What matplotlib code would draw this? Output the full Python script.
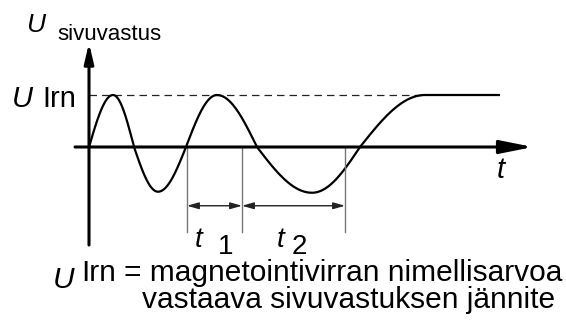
import numpy as np
import matplotlib.pyplot as plt

plt.rcParams['font.family'] = ['Liberation Sans', 'DejaVu Sans']

# aaltomuodon tukipisteet: aika ja jännite suhteessa U_lrn:ään
t_avain = [0, 24, 45, 69, 97, 128, 168, 223, 271, 336, 411]
u_avain = [0, 1, 0, -0.86, 0, 1, 0, -0.88, 0, 1, 1]

# mittaviivojen t1 ja t2 kohdat
t_mitat = [98, 153, 256]
u_taso = 1.0


def aalto(t_k, u_k, n=60):
    # neljännesjaksot tukipisteiden välille
    tt, uu = [], []
    for i in range(len(t_k) - 1):
        s = np.linspace(0, 1, n)
        t0, t1 = t_k[i], t_k[i + 1]
        v0, v1 = u_k[i], u_k[i + 1]
        if abs(v0) < abs(v1):
            u = v0 + (v1 - v0) * np.sin(np.pi / 2 * s)
        else:
            u = v1 + (v0 - v1) * np.cos(np.pi / 2 * s)
        tt.append(t0 + (t1 - t0) * s)
        uu.append(u)
    return np.concatenate(tt), np.concatenate(uu)


fig = plt.figure(figsize=(5.66, 3.24), dpi=100)
ax = fig.add_axes([0, 0, 1, 1])
ax.set_xlim(-89, 477)
ax.set_ylim(-3.404, 2.827)
ax.axis('off')

# akselit nuolineen
ax.annotate('', xy=(444, 0), xytext=(-14, 0),
            arrowprops=dict(arrowstyle='-|>,head_length=1.0,head_width=0.2',
                            mutation_scale=20, lw=2.2, color='k',
                            shrinkA=0, shrinkB=0))
ax.annotate('', xy=(0, 2.0), xytext=(0, -1.885),
            arrowprops=dict(arrowstyle='-|>,head_length=0.85,head_width=0.2',
                            mutation_scale=14, lw=2.2, color='k',
                            shrinkA=0, shrinkB=0))

# U_lrn katkoviiva
ax.plot([0, t_avain[-2]], [u_taso, u_taso], color='#222222', lw=0.9,
        dashes=(6, 4))

t, u = aalto(t_avain, u_avain)
ax.plot(t, u, color='k', lw=1.6, solid_capstyle='butt')

# t1 ja t2 mittaviivat
for tm in t_mitat:
    ax.plot([tm, tm], [0, -1.63], color='#777777', lw=1.0)
for a, b in zip(t_mitat[:-1], t_mitat[1:]):
    ax.annotate('', xy=(b, -1.13), xytext=(a, -1.13),
                arrowprops=dict(arrowstyle='<|-|>,head_length=0.7,head_width=0.2',
                                mutation_scale=10, lw=1.0, color='#222222',
                                shrinkA=0, shrinkB=0))

# tekstit
ax.text(-63, 2.21, 'U', fontsize=19, style='italic', va='baseline')
ax.text(-32, 2.06, 'sivuvastus', fontsize=16, va='baseline')
ax.text(-77, 0.77, 'U', fontsize=21, style='italic', va='baseline')
ax.text(-47, 0.77, 'Irn', fontsize=21, va='baseline')
ax.text(408, -0.6, 't', fontsize=21, style='italic', va='baseline')
ax.text(106, -1.92, 't', fontsize=20, style='italic', va='baseline')
ax.text(129, -2.06, '1', fontsize=20, va='baseline')
ax.text(188, -1.92, 't', fontsize=20, style='italic', va='baseline')
ax.text(203, -2.06, '2', fontsize=20, va='baseline')

rivi1 = ax.text(473, -2.58, '= magnetointivirran nimellisarvoa', fontsize=21.5,
                ha='right', va='baseline')
ax.text(466, -3.09, 'vastaava sivuvastuksen jännite', fontsize=21.5,
        ha='right', va='baseline')

# U Irn selitteen alkuun
fig.canvas.draw()
r = fig.canvas.get_renderer()
x_vasen = ax.transData.inverted().transform(
    rivi1.get_window_extent(r).p0)[0]
irn = ax.text(x_vasen - 8, -2.58, 'Irn', fontsize=21.5, ha='right',
              va='baseline')
x_irn = ax.transData.inverted().transform(irn.get_window_extent(r).p0)[0]
ax.text(x_irn - 6, -2.72, 'U', fontsize=21.5, style='italic', ha='right',
        va='baseline')

fig.savefig('out.png', dpi=100)
